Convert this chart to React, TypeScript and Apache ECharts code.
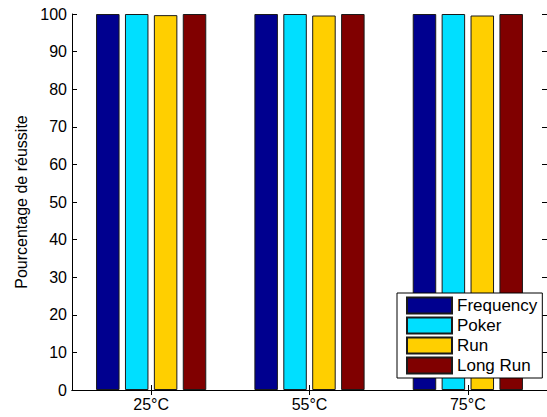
import React, { useEffect, useRef } from "react";
import * as echarts from "echarts";

const categories = ["25°C", "55°C", "75°C"];
const seriesNames = ["Frequency", "Poker", "Run", "Long Run"];
const frequency = [100, 100, 100];
const poker = [100, 100, 100];
const run = [99.7, 99.6, 99.6];
const longRun = [100, 100, 100];
const seriesColors = ["#00008F", "#00DFFF", "#FFCF00", "#800000"];
const yTicks = { min: 0, max: 100, interval: 10 };

const FONT = "'Liberation Sans', Arial, Helvetica, sans-serif";

export default function App() {
  const ref = useRef<HTMLDivElement>(null);
  useEffect(() => {
    if (!ref.current) return;
    const chart = echarts.init(ref.current, undefined, { renderer: "svg" });
    const values = [frequency, poker, run, longRun];
    const axisLine = { show: true, lineStyle: { color: "#000", width: 1 } };
    chart.setOption({
      animation: false,
      backgroundColor: "#fff",
      grid: { left: 72, top: 14, right: -3, bottom: 27, containLabel: false },
      legend: {
        orient: "vertical",
        left: 397,
        top: 293,
        data: seriesNames,
        icon: "rect",
        itemWidth: 45,
        itemHeight: 16,
        itemGap: 2,
        padding: [3.5, 5, 3.5, 9],
        backgroundColor: "#fff",
        borderColor: "#000",
        borderWidth: 1,
        borderRadius: 0,
        textStyle: { fontFamily: FONT, fontSize: 17, color: "#000" },
      },
      xAxis: [
        {
          type: "category",
          data: categories,
          position: "bottom",
          axisLine,
          axisTick: { show: true, inside: true, length: 5, alignWithLabel: true, lineStyle: { color: "#000" } },
          axisLabel: { fontFamily: FONT, fontSize: 16, color: "#000", margin: 6 },
          splitLine: { show: false },
        },
        {
          type: "category",
          data: categories,
          position: "top",
          axisLine,
          axisTick: { show: true, inside: true, length: 5, alignWithLabel: true, lineStyle: { color: "#000" } },
          axisLabel: { show: false },
          splitLine: { show: false },
        },
      ],
      yAxis: [
        {
          type: "value",
          min: yTicks.min,
          max: yTicks.max,
          interval: yTicks.interval,
          position: "left",
          name: "Pourcentage de réussite",
          nameLocation: "middle",
          nameGap: 42,
          nameTextStyle: { fontFamily: FONT, fontSize: 16, color: "#000" },
          axisLine,
          axisTick: { show: true, inside: true, length: 5, lineStyle: { color: "#000" } },
          axisLabel: { fontFamily: FONT, fontSize: 16, color: "#000", margin: 5 },
          splitLine: { show: false },
        },
        {
          type: "value",
          min: yTicks.min,
          max: yTicks.max,
          interval: yTicks.interval,
          position: "right",
          axisLine,
          axisTick: { show: true, inside: true, length: 5, lineStyle: { color: "#000" } },
          axisLabel: { show: false },
          splitLine: { show: false },
        },
      ],
      series: seriesNames.map((name, i) => ({
        name,
        type: "bar",
        xAxisIndex: 0,
        yAxisIndex: 0,
        data: values[i],
        barWidth: 23.5,
        barGap: "23%",
        itemStyle: { color: seriesColors[i], borderColor: "#1a1a1a", borderWidth: 1 },
      })),
    });
    return () => chart.dispose();
  }, []);
  return (
    <div
      ref={ref}
      style={{ position: "absolute", left: 0, top: 0, width: 547, height: 417 }}
    />
  );
}
